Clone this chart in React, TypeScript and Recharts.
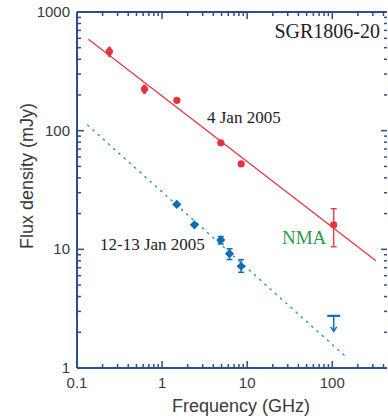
import React from 'react';
import {
  ComposedChart,
  Line,
  Scatter,
  XAxis,
  YAxis,
  ErrorBar,
  Customized,
} from 'recharts';

// 4 Jan 2005 (red)
const jan4Freq = [0.24, 0.62, 1.49, 4.9, 8.5];
const jan4Flux = [464, 224, 180, 79, 52.5];
const jan4ErrLow = [45, 20, 0, 0, 0];
const jan4ErrHigh = [45, 20, 0, 0, 0];

// NMA point (red, with error bar)
const nmaFreq = [104];
const nmaFlux = [16.1];
const nmaErrLow = [5.6];
const nmaErrHigh = [5.9];

// 12-13 Jan 2005 (blue)
const jan13Freq = [1.49, 2.4, 4.9, 6.2, 8.5];
const jan13Flux = [23.9, 16.1, 12.0, 9.2, 7.2];
const jan13ErrLow = [0, 0, 0.9, 1.0, 0.8];
const jan13ErrHigh = [0, 0, 0.8, 0.9, 1.0];

// upper limit (blue)
const limitFreq = [104];
const limitFlux = [2.75];

// power-law fits (end points)
const jan4FitFreq = [0.136, 326];
const jan4FitFlux = [590, 8.0];
const jan13FitFreq = [0.132, 140];
const jan13FitFlux = [112, 1.27];

// axis ticks
const xMajorTicks = [0.1, 1, 10, 100];
const yMajorTicks = [1, 10, 100, 1000];
const xDomain = [0.1, 440];
const yDomain = [1, 1000];

const AXIS = '#2d4d8c';
const RED = '#e5323f';
const BLUE = '#0f6db5';
const BLUE_LINE = '#2b8fd4';
const GREEN = '#2a9b4a';
const TEXT = '#3a3a3a';
const SANS = '"Liberation Sans", Arial, sans-serif';
const SERIF = '"Liberation Serif", "Times New Roman", serif';

function withMinors(majors: number[], max: number) {
  const out: number[] = [];
  majors.forEach((m) => {
    for (let k = 1; k <= 9; k++) {
      const v = +(m * k).toPrecision(6);
      if (v <= max) out.push(v);
    }
  });
  return out;
}

const xTicks = withMinors(xMajorTicks, xDomain[1]);
const yTicks = withMinors(yMajorTicks, yDomain[1]);

const isMajor = (v: number) => Math.abs(Math.log10(v) - Math.round(Math.log10(v))) < 1e-6;

const pts = (xs: number[], ys: number[], lo?: number[], hi?: number[]) =>
  xs.map((x, i) => ({ x, y: ys[i], err: lo && hi ? [lo[i], hi[i]] : undefined }));

const jan4Data = pts(jan4Freq, jan4Flux, jan4ErrLow, jan4ErrHigh);
const nmaData = pts(nmaFreq, nmaFlux, nmaErrLow, nmaErrHigh);
const jan13Data = pts(jan13Freq, jan13Flux, jan13ErrLow, jan13ErrHigh);
const limitData = pts(limitFreq, limitFlux);
const jan4Fit = pts(jan4FitFreq, jan4FitFlux);
const jan13Fit = pts(jan13FitFreq, jan13FitFlux);

const fmt = (v: number) => (v === 0.1 ? '0.1' : String(v));

function BottomTick(props: any) {
  const { x, y, payload } = props;
  const v = payload.value;
  const major = isMajor(v);
  return (
    <g>
      <line x1={x} x2={x} y1={y} y2={y - (major ? 7 : 4)} stroke={AXIS} strokeWidth={1.5} />
      {major && (
        <text x={x} y={y + 20} textAnchor="middle" fontSize={15} fontFamily={SANS} fill={TEXT}>
          {fmt(v)}
        </text>
      )}
    </g>
  );
}

function TopTick(props: any) {
  const { x, y, payload } = props;
  const major = isMajor(payload.value);
  return <line x1={x} x2={x} y1={y} y2={y + (major ? 7 : 4)} stroke={AXIS} strokeWidth={1.5} />;
}

function LeftTick(props: any) {
  const { x, y, payload } = props;
  const v = payload.value;
  const major = isMajor(v);
  return (
    <g>
      <line x1={x} x2={x + (major ? 7 : 4)} y1={y} y2={y} stroke={AXIS} strokeWidth={1.5} />
      {major && (
        <text x={x - 7} y={y + 5} textAnchor="end" fontSize={15} fontFamily={SANS} fill={TEXT}>
          {fmt(v)}
        </text>
      )}
    </g>
  );
}

function RightTick(props: any) {
  const { x, y, payload } = props;
  const major = isMajor(payload.value);
  return <line x1={x} x2={x - (major ? 6 : 3)} y1={y} y2={y} stroke={AXIS} strokeWidth={1.5} />;
}

const RedDot = (p: any) => <circle cx={p.cx} cy={p.cy} r={3.6} fill={RED} />;

const BlueDiamond = (p: any) => {
  const s = 4.6;
  return (
    <polygon
      points={`${p.cx},${p.cy - s} ${p.cx + s},${p.cy} ${p.cx},${p.cy + s} ${p.cx - s},${p.cy}`}
      fill={BLUE}
    />
  );
};

const UpperLimit = (p: any) => {
  const { cx, cy } = p;
  return (
    <g stroke={BLUE} fill="none">
      <line x1={cx - 6.5} x2={cx + 6.5} y1={cy} y2={cy} strokeWidth={2.2} />
      <line x1={cx} x2={cx} y1={cy} y2={cy + 15} strokeWidth={1.5} />
      <polyline points={`${cx - 3},${cy + 11} ${cx},${cy + 15.5} ${cx + 3},${cy + 11}`} strokeWidth={1.5} />
    </g>
  );
};

function Texts() {
  return (
    <g>
      <text x={380} y={38} textAnchor="end" fontSize={20} fontFamily={SERIF} fill="#222">
        SGR1806-20
      </text>
      <text x={207} y={123} fontSize={17} fontFamily={SERIF} fill="#222">
        4 Jan 2005
      </text>
      <text x={100} y={250} fontSize={17} fontFamily={SERIF} fill="#222">
        12-13 Jan 2005
      </text>
      <text x={282} y={244} fontSize={19} fontFamily={SERIF} fill={GREEN}>
        NMA
      </text>
      <text
        x={0}
        y={0}
        transform="translate(33,176) rotate(-90)"
        textAnchor="middle"
        fontSize={18}
        fontFamily={SANS}
        fill={TEXT}
      >
        Flux density (mJy)
      </text>
      <text x={241} y={412} textAnchor="middle" fontSize={18} fontFamily={SANS} fill={TEXT}>
        Frequency (GHz)
      </text>
    </g>
  );
}

export default function App() {
  return (
    <div style={{ position: 'absolute', left: 0, top: 0, width: 388, height: 420, background: '#fff' }}>
      <ComposedChart width={388} height={420} margin={{ top: 11, right: 0, bottom: 51, left: 76 }}>
        <XAxis
          xAxisId="bottom"
          dataKey="x"
          type="number"
          scale="log"
          domain={xDomain}
          allowDataOverflow
          ticks={xTicks}
          interval={0}
          height={1}
          tickSize={0}
          tickMargin={0}
          tick={BottomTick}
          axisLine={{ stroke: AXIS, strokeWidth: 2 }}
        />
        <XAxis
          xAxisId="top"
          orientation="top"
          dataKey="x"
          type="number"
          scale="log"
          domain={xDomain}
          allowDataOverflow
          ticks={xTicks}
          interval={0}
          height={1}
          tickSize={0}
          tickMargin={0}
          tick={TopTick}
          axisLine={{ stroke: AXIS, strokeWidth: 2 }}
        />
        <YAxis
          yAxisId="left"
          dataKey="y"
          type="number"
          scale="log"
          domain={yDomain}
          allowDataOverflow
          ticks={yTicks}
          interval={0}
          width={1}
          tickSize={0}
          tickMargin={0}
          tick={LeftTick}
          axisLine={{ stroke: AXIS, strokeWidth: 2 }}
        />
        <YAxis
          yAxisId="right"
          orientation="right"
          dataKey="y"
          type="number"
          scale="log"
          domain={yDomain}
          allowDataOverflow
          ticks={yTicks}
          interval={0}
          width={1}
          tickSize={0}
          tickMargin={0}
          tick={RightTick}
          axisLine={false}
        />

        <Line
          xAxisId="bottom"
          yAxisId="left"
          data={jan4Fit}
          dataKey="y"
          type="linear"
          stroke={RED}
          strokeWidth={1.2}
          dot={false}
          activeDot={false}
          isAnimationActive={false}
        />
        <Line
          xAxisId="bottom"
          yAxisId="left"
          data={jan13Fit}
          dataKey="y"
          type="linear"
          stroke={BLUE_LINE}
          strokeWidth={1.4}
          strokeDasharray="2.5 4.5"
          dot={false}
          activeDot={false}
          isAnimationActive={false}
        />

        <Scatter
          xAxisId="bottom"
          yAxisId="left"
          data={jan4Data}
          dataKey="y"
          shape={RedDot}
          isAnimationActive={false}
        >
          <ErrorBar dataKey="err" direction="y" width={0} stroke={RED} strokeWidth={3} />
        </Scatter>
        <Scatter
          xAxisId="bottom"
          yAxisId="left"
          data={nmaData}
          dataKey="y"
          shape={RedDot}
          isAnimationActive={false}
        >
          <ErrorBar dataKey="err" direction="y" width={3} stroke={RED} strokeWidth={1.3} />
        </Scatter>
        <Scatter
          xAxisId="bottom"
          yAxisId="left"
          data={jan13Data}
          dataKey="y"
          shape={BlueDiamond}
          isAnimationActive={false}
        >
          <ErrorBar dataKey="err" direction="y" width={3} stroke={BLUE} strokeWidth={1.5} />
        </Scatter>
        <Scatter
          xAxisId="bottom"
          yAxisId="left"
          data={limitData}
          dataKey="y"
          shape={UpperLimit}
          isAnimationActive={false}
        />

        <Customized component={Texts} />
      </ComposedChart>
    </div>
  );
}
